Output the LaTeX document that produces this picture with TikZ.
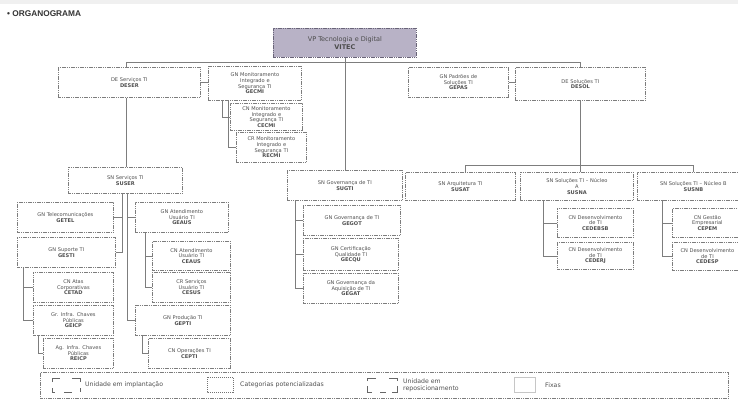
\documentclass[tikz,border=0pt]{standalone}
\usepackage{fontspec}
\setmainfont{DejaVu Sans}
\newfontfamily\titlefont{Liberation Sans}
\definecolor{vpfill}{RGB}{184,178,198}
\definecolor{vpline}{RGB}{105,100,120}
\definecolor{bline}{RGB}{125,125,125}
\definecolor{btext}{RGB}{80,80,80}
\tikzset{
  obox/.style={draw=bline, line width=0.8pt, dash pattern=on 1.2pt off 0.6pt, fill=white,
    align=center, inner sep=0pt, text=btext, font=\fontsize{5.1}{5.6}\selectfont},
  conn/.style={draw=bline, line width=0.8pt},
  legtxt/.style={anchor=west, text=btext, font=\fontsize{6.2}{7}\selectfont, align=left, inner sep=0pt}
}
\newcommand\obox[6]{\pgfmathsetmacro\tw{#4-3}%
  \node[obox,anchor=north west,minimum width=#4pt,minimum height=#5pt,text width=\tw pt] (#1) at (#2,#3) {#6};}
\begin{document}
\begin{tikzpicture}[x=1pt,y=-1pt]
\useasboundingbox (0,0) rectangle (738,400);
\clip (0,0) rectangle (738,400);
\fill[white] (0,0) rectangle (738,400);
\fill[gray!12] (0,0) rectangle (738,4);
% title
\node[anchor=west, inner sep=0pt, font=\titlefont\fontsize{8.3}{9}\selectfont\bfseries, text=black!80] (title) at (7,14) {• ORGANOGRAMA};
\coordinate (busL) at (126,62);
\coordinate (busR) at (580,62);
\coordinate (bus2L) at (465,165);
\coordinate (bus2R) at (693,165);
% boxes
\node[obox, fill=vpfill, draw=vpline, anchor=north west, minimum width=143pt, minimum height=29pt, text width=138pt, text=black!70, font=\fontsize{6.5}{7.5}\selectfont] (vp) at (273,28) {VP Tecnologia e Digital\\\textbf{VITEC}};
\obox{deser}{58}{67}{142}{30}{DE Serviços TI\\\textbf{DESER}}
\obox{gecmi}{208}{66}{93}{34}{GN Monitoramento\\Integrado e\\Segurança TI\\\textbf{GECMI}}
\obox{cecmi}{230}{103}{72}{27}{CN Monitoramento\\Integrado e\\Segurança TI\\\textbf{CECMI}}
\obox{recmi}{236}{132}{70}{30}{CR Monitoramento\\Integrado e\\Segurança TI\\\textbf{RECMI}}
\obox{gepas}{408}{67}{100}{30}{GN Padrões de\\Soluções TI\\\textbf{GEPAS}}
\obox{desol}{515}{67}{130}{33}{DE Soluções TI\\\textbf{DESOL}}
\obox{suser}{68}{167}{114}{26}{SN Serviços TI\\\textbf{SUSER}}
\obox{getel}{17}{202}{96}{30}{GN Telecomunicações\\\textbf{GETEL}}
\obox{gesti}{17}{237}{98}{30}{GN Suporte TI\\\textbf{GESTI}}
\obox{cetad}{33}{272}{80}{30}{CN Atas\\Corporativas\\\textbf{CETAD}}
\obox{geicp}{33}{305}{80}{30}{Gr. Infra. Chaves\\Públicas\\\textbf{GEICP}}
\obox{reicp}{43}{338}{70}{30}{Ag. Infra. Chaves\\Públicas\\\textbf{REICP}}
\obox{geaus}{135}{202}{93}{30}{GN Atendimento\\Usuário TI\\\textbf{GEAUS}}
\obox{ceaus}{152}{241}{78}{29}{CN Atendimento\\Usuário TI\\\textbf{CEAUS}}
\obox{cesus}{152}{272}{78}{30}{CR Serviços\\Usuário TI\\\textbf{CESUS}}
\obox{gepti}{135}{305}{95}{30}{GN Produção TI\\\textbf{GEPTI}}
\obox{cepti}{148}{338}{82}{30}{CN Operações TI\\\textbf{CEPTI}}
\obox{sugti}{287}{170}{115}{30}{SN Governança de TI\\\textbf{SUGTI}}
\obox{gegot}{303}{205}{97}{30}{GN Governança de TI\\\textbf{GEGOT}}
\obox{gecqu}{303}{238}{95}{32}{GN Certificação\\Qualidade TI\\\textbf{GECQU}}
\obox{gegat}{303}{273}{95}{30}{GN Governança da\\Aquisição de TI\\\textbf{GEGAT}}
\obox{susat}{405}{172}{110}{28}{SN Arquitetura TI\\\textbf{SUSAT}}
\obox{susna}{520}{172}{113}{28}{SN Soluções TI -- Núcleo\\A\\\textbf{SUSNA}}
\obox{susnb}{637}{172}{112}{28}{SN Soluções TI -- Núcleo B\\\textbf{SUSNB}}
\obox{cedbr}{557}{208}{76}{29}{CN Desenvolvimento\\de TI\\\textbf{CEDEBSB}}
\obox{cedrj}{557}{242}{76}{27}{CN Desenvolvimento\\de TI\\\textbf{CEDERJ}}
\obox{cepem}{672}{208}{70}{29}{CN Gestão\\Empresarial\\\textbf{CEPEM}}
\obox{cedsp}{672}{242}{70}{28}{CN Desenvolvimento\\de TI\\\textbf{CEDESP}}
% connectors
\draw[conn] (vp.south) -- (vp.south |- sugti.north);
\draw[conn] (deser.north -| busL) -- (busL) -- (busR) -- (busR |- desol.north);
\draw[conn] (deser.east) -- (deser.east -| gecmi.west);
\draw[conn] (gepas.east) -- (gepas.east -| desol.west);
\coordinate (gx1) at (222,100);
\coordinate (gx2) at (228,100);
\draw[conn] (gx1) |- (cecmi.west);
\draw[conn] (gx2) |- (recmi.west);
\draw[conn] (deser.south -| 126,0) -- (suser.north -| 126,0);
\coordinate (st1) at (122,193);
\coordinate (st2) at (127,193);
\draw[conn] (st1) |- (gesti.east);
\draw[conn] (st1 |- getel.east) -- (getel.east);
\draw[conn] (st2) |- (gepti.west);
\draw[conn] (st2 |- geaus.west) -- (geaus.west);
\coordinate (gs) at (23,267);
\draw[conn] (gs) |- (geicp.west);
\draw[conn] (gs |- cetad.west) -- (cetad.west);
\coordinate (gi) at (38,335);
\draw[conn] (gi) |- (reicp.west);
\coordinate (ga) at (145,232);
\draw[conn] (ga) |- (cesus.west);
\draw[conn] (ga |- ceaus.west) -- (ceaus.west);
\coordinate (gp) at (142,335);
\draw[conn] (gp) |- (cepti.west);
\coordinate (sg) at (295,200);
\draw[conn] (sg) |- (gegat.west);
\draw[conn] (sg |- gegot.west) -- (gegot.west);
\draw[conn] (sg |- gecqu.west) -- (gecqu.west);
\draw[conn] (desol.south -| busR) -- (busR |- bus2L);
\draw[conn] (bus2L |- susat.north) -- (bus2L) -- (bus2R) -- (bus2R |- susnb.north);
\draw[conn] (busR |- bus2L) -- (busR |- susna.north);
\coordinate (sa) at (543,200);
\draw[conn] (sa) |- (cedrj.west);
\draw[conn] (sa |- cedbr.west) -- (cedbr.west);
\coordinate (sb) at (662,200);
\draw[conn] (sb) |- (cedsp.west);
\draw[conn] (sb |- cepem.west) -- (cepem.west);
% legend
\node[draw=bline, line width=0.8pt, dash pattern=on 1.2pt off 0.6pt, anchor=north west, minimum width=688pt, minimum height=26pt, inner sep=0pt] (legend) at (40,372) {};
\begin{scope}[draw=black!60, line width=0.9pt]
\draw (52,382) -- (52,378) -- (60,378);
\draw (72,378) -- (80,378) -- (80,382);
\draw (52,388) -- (52,392) -- (55,392);
\draw (64,392) -- (72,392);
\draw (80,388) -- (80,392);
\end{scope}
\node[legtxt] (l1) at (85,385) {Unidade em implantação};
\draw[draw=black!55, line width=0.8pt, dash pattern=on 1pt off 1pt] (207,377) rectangle (233,392);
\node[legtxt] (l2) at (240,385) {Categorias potencializadas};
\begin{scope}[draw=black!60, line width=0.9pt]
\draw (367,381) -- (367,378) -- (376,378);
\draw (389,378) -- (397,378) -- (397,381);
\draw (367,386) -- (367,392) -- (372,392);
\draw (380,392) -- (386,392);
\draw (392,392) -- (397,392) -- (397,386);
\end{scope}
\node[legtxt] (l3) at (403,385) {Unidade em\\reposicionamento};
\draw[draw=gray!45, line width=0.6pt] (514,377) rectangle (535,392);
\node[legtxt] (l4) at (545,385) {Fixas};
\end{tikzpicture}
\end{document}
